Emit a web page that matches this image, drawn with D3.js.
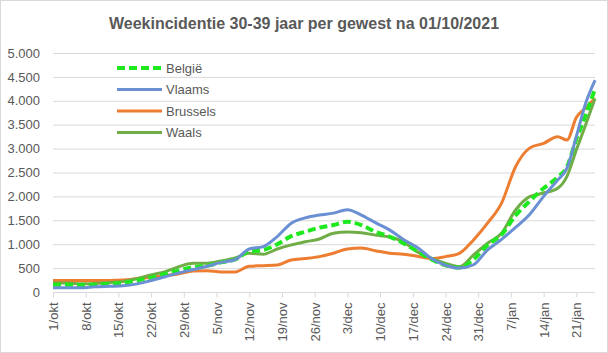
<!DOCTYPE html>
<html>
<head>
<meta charset="utf-8">
<script src="https://cdn.jsdelivr.net/npm/d3@7"></script>
<style>
  body { margin: 0; background: #fff; }
  svg text { font-family: "Liberation Sans", Arial, sans-serif; }
</style>
</head>
<body>
<svg id="chart" width="608" height="353"></svg>
<script>
// dagen na 1/okt
var days = [0, 3, 6, 9, 12, 15, 18, 21, 24, 27, 30, 33, 36, 39, 42, 45, 48, 51, 54, 57,
            60, 63, 66, 69, 72, 75, 78, 81, 84, 87, 90, 93, 96, 99, 102, 105, 108, 110, 112, 114, 116];

var belgie = [150, 150, 140, 150, 170, 190, 240, 300, 380, 450, 520, 550, 620, 680, 850, 880, 1000, 1170, 1260, 1345,
              1400, 1470, 1400, 1260, 1160, 1020, 850, 680, 560, 510, 680, 980, 1200, 1600, 1900, 2170, 2400, 2620, 3200, 3700, 4250];
var vlaams = [90, 90, 90, 110, 120, 130, 170, 240, 320, 400, 470, 540, 620, 680, 900, 950, 1160, 1440, 1550, 1610,
              1650, 1720, 1610, 1450, 1300, 1100, 930, 700, 560, 500, 570, 880, 1100, 1350, 1620, 2000, 2340, 2590, 3250, 3950, 4430];
var brussels = [240, 240, 240, 240, 240, 250, 280, 310, 340, 380, 440, 445, 420, 420, 540, 550, 565, 670, 700, 740,
                810, 900, 920, 865, 810, 790, 750, 700, 740, 810, 1090, 1440, 1860, 2620, 3010, 3110, 3250, 3180, 3650, 3850, 4050];
var waals = [190, 190, 170, 180, 200, 220, 280, 355, 425, 530, 600, 600, 650, 710, 810, 790, 900, 985, 1050, 1110,
             1230, 1255, 1240, 1190, 1150, 1050, 840, 710, 600, 530, 775, 1020, 1230, 1715, 1995, 2070, 2170, 2420, 2970, 3500, 4050];

var tickDays = [0, 7, 14, 21, 28, 35, 42, 49, 56, 63, 70, 77, 84, 91, 98, 105, 112];
var tickLabels = ["1/okt", "8/okt", "15/okt", "22/okt", "29/okt", "5/nov", "12/nov", "19/nov", "26/nov",
                  "3/dec", "10/dec", "17/dec", "24/dec", "31/dec", "7/jan", "14/jan", "21/jan"];

var series = [
  {name: "België", values: belgie, color: "#1ee81e", dash: "8,4", width: 4},
  {name: "Vlaams", values: vlaams, color: "#6a8fd2", dash: null, width: 3},
  {name: "Brussels", values: brussels, color: "#ed7d31", dash: null, width: 3},
  {name: "Waals", values: waals, color: "#70ad47", dash: null, width: 3}
];

var svg = d3.select("#chart");

svg.append("rect")
   .attr("x", 0.5).attr("y", 0.5)
   .attr("width", 607).attr("height", 352)
   .attr("fill", "#fff")
   .attr("stroke", "#d9d9d9");

var x = d3.scaleLinear().domain([0, 116]).range([53, 595]);
var y = d3.scaleLinear().domain([0, 5000]).range([292, 53]);

var nl = d3.formatLocale({decimal: ",", thousands: ".", grouping: [3], currency: ["", ""]});
var fmt = nl.format(",");

// titel
svg.append("text")
   .attr("x", 304).attr("y", 29)
   .attr("text-anchor", "middle")
   .style("font-size", "16px")
   .style("font-weight", "bold")
   .attr("fill", "#595959")
   .text("Weekincidentie  30-39 jaar per gewest na 01/10/2021");

// rasterlijnen
svg.append("g")
   .selectAll("line")
   .data(d3.range(500, 5001, 500))
   .enter()
   .append("line")
   .attr("x1", 53).attr("x2", 595)
   .attr("y1", function(d) { return y(d) + 0.5; })
   .attr("y2", function(d) { return y(d) + 0.5; })
   .attr("stroke", "#d9d9d9");

// y-as labels
var yAxis = svg.append("g")
   .attr("transform", "translate(53,0)")
   .call(d3.axisLeft(y).tickValues(d3.range(0, 5001, 500)).tickFormat(fmt).tickSize(0).tickPadding(13));
yAxis.select(".domain").remove();
yAxis.selectAll("text").style("font-size", "13px").attr("fill", "#595959");

// x-as
var xAxis = svg.append("g")
   .attr("transform", "translate(0," + (y(0) + 0.5) + ")")
   .call(d3.axisBottom(x).tickValues(tickDays)
         .tickFormat(function(d, i) { return tickLabels[i]; })
         .tickSizeOuter(0).tickSizeInner(5));
xAxis.select(".domain").attr("stroke", "#d9d9d9").attr("d", "M53,0H595");
xAxis.selectAll(".tick line").attr("stroke", "#d9d9d9");
xAxis.selectAll("text")
   .style("font-size", "13px")
   .attr("fill", "#595959")
   .attr("text-anchor", "end")
   .attr("dy", "0.35em")
   .attr("transform", "translate(0,6) rotate(-90)")
   .attr("x", -4).attr("y", 0);

// lijnen
var line = d3.line()
   .x(function(d, i) { return x(days[i]); })
   .y(function(d) { return y(d); })
   .curve(d3.curveMonotoneX);

var drawOrder = [2, 3, 0, 1];
drawOrder.forEach(function(k) {
  var s = series[k];
  svg.append("path")
     .datum(s.values)
     .attr("fill", "none")
     .attr("stroke", s.color)
     .attr("stroke-width", s.width)
     .attr("stroke-dasharray", s.dash)
     .attr("d", line);
});

// legenda
var legend = svg.append("g").attr("transform", "translate(117,68)");
series.forEach(function(s, i) {
  var g = legend.append("g").attr("transform", "translate(0," + (i * 21.5) + ")");
  g.append("line")
   .attr("x1", 0).attr("x2", 45)
   .attr("stroke", s.color)
   .attr("stroke-width", s.width)
   .attr("stroke-dasharray", s.dash);
  g.append("text")
   .attr("x", 49).attr("y", 0).attr("dy", "0.35em")
   .style("font-size", "13px")
   .attr("fill", "#595959")
   .text(s.name);
});
</script>
</body>
</html>
